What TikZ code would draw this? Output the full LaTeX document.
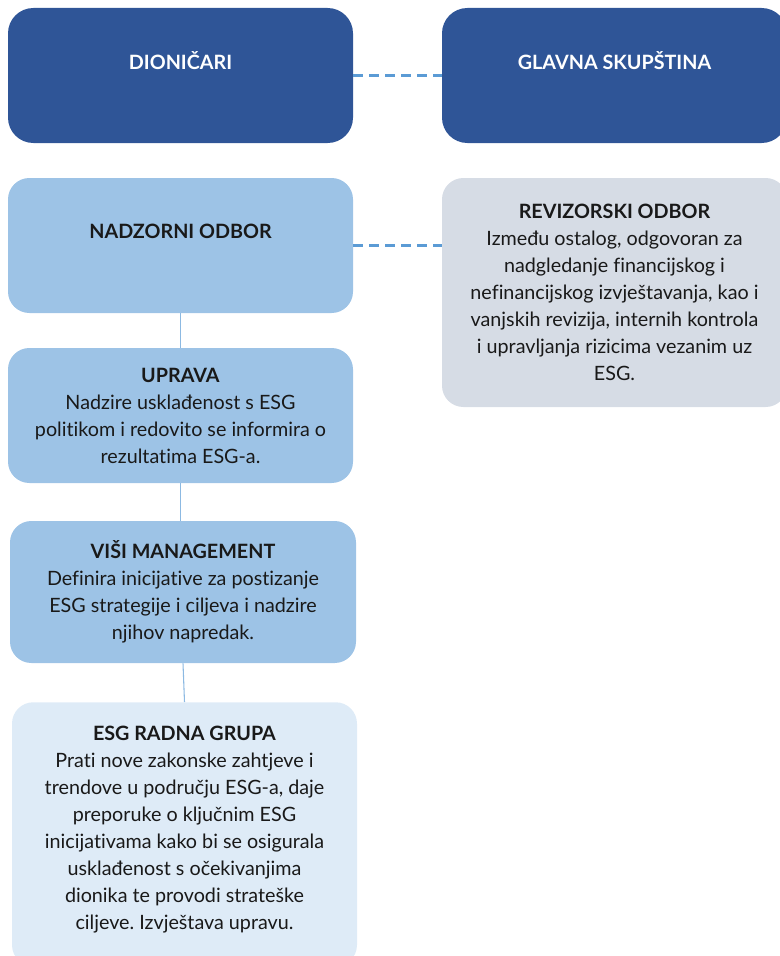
\documentclass[tikz,border=0pt]{standalone}
\usepackage{fontspec}
\setmainfont{Lato}[Ligatures=NoCommon]
\frenchspacing
\definecolor{tamnoplava}{HTML}{2F5597}
\definecolor{srednjeplava}{HTML}{9DC3E6}
\definecolor{svijetloplava}{HTML}{DEEBF7}
\definecolor{siva}{HTML}{D6DCE5}
\definecolor{crta}{HTML}{5B9BD5}
\tikzset{
  okvir/.style={rounded corners=16pt, inner sep=0pt, align=center, font=\fontsize{14.8}{20.25}\selectfont, text=black!90},
  gornji/.style={okvir, rounded corners=19pt, fill=tamnoplava, text=white, font=\fontsize{14.8}{20.25}\selectfont\bfseries},
  veza/.style={draw=crta!70, line width=0.8pt},
  isprekidana/.style={draw=crta, line width=2pt, dash pattern=on 7pt off 5pt},
}
\begin{document}
\begin{tikzpicture}[x=0.75pt,y=-0.75pt]
        \useasboundingbox (0,0) rectangle (780,956);
        \clip (0,0) rectangle (780,956);
        % gornji red
        \node [gornji, minimum width=258.75pt, minimum height=101.25pt] (dionicari) at (180.5,75.5) {DIONIČARI\\[-4.5pt]\strut};
        \node [gornji, minimum width=258.75pt, minimum height=101.25pt] (skupstina) at (614.5,75.5) {GLAVNA SKUPŠTINA\\[-4.5pt]\strut};
        % nadzorni odbor i revizorski odbor
        \node [okvir, fill=srednjeplava, minimum width=258.75pt, minimum height=101.25pt] (nadzorni) at (180.5,245.5) {\textbf{NADZORNI ODBOR}\\[-4.5pt]\strut};
        \node [okvir, fill=siva, minimum width=258.75pt, minimum height=171.75pt] (revizorski) at (614.5,292.5) {\textbf{REVIZORSKI ODBOR}\\Između ostalog, odgovoran za\\nadgledanje financijskog i\\nefinancijskog izvještavanja, kao i\\vanjskih revizija, internih kontrola\\i upravljanja rizicima vezanim uz\\ESG.};
        % lanac odgovornosti
        \node [okvir, fill=srednjeplava, minimum width=258.75pt, minimum height=101.25pt] (uprava) at (180.5,415.5) {\textbf{UPRAVA}\\Nadzire usklađenost s ESG\\politikom i redovito se informira o\\rezultatima ESG-a.};
        \node [okvir, fill=srednjeplava, minimum width=259.5pt, minimum height=106.5pt] (visi) at (183,592) {\textbf{VIŠI MANAGEMENT}\\Definira inicijative za postizanje\\ESG strategije i ciljeva i nadzire\\njihov napredak.};
        \node [okvir, fill=svijetloplava, minimum width=258.75pt, minimum height=198pt, anchor=north] (radna) at (184.5,702) {\textbf{ESG RADNA GRUPA}\\Prati nove zakonske zahtjeve i\\trendove u području ESG-a, daje\\preporuke o ključnim ESG\\inicijativama kako bi se osigurala\\usklađenost s očekivanjima\\dionika te provodi strateške\\ciljeve. Izvještava upravu.\\[-10pt]\rule{0pt}{0pt}};
        % veze
        \draw [isprekidana] (dionicari.east) -- (skupstina.west);
        \draw [isprekidana] (nadzorni.east) -- (nadzorni.east -| revizorski.west);
        \draw [veza] (nadzorni.south) -- (uprava.north);
        \draw [veza] (uprava.south) -- (uprava.south |- visi.north);
        \draw [veza] (visi.south) -- (radna.north);
\end{tikzpicture}
\end{document}
